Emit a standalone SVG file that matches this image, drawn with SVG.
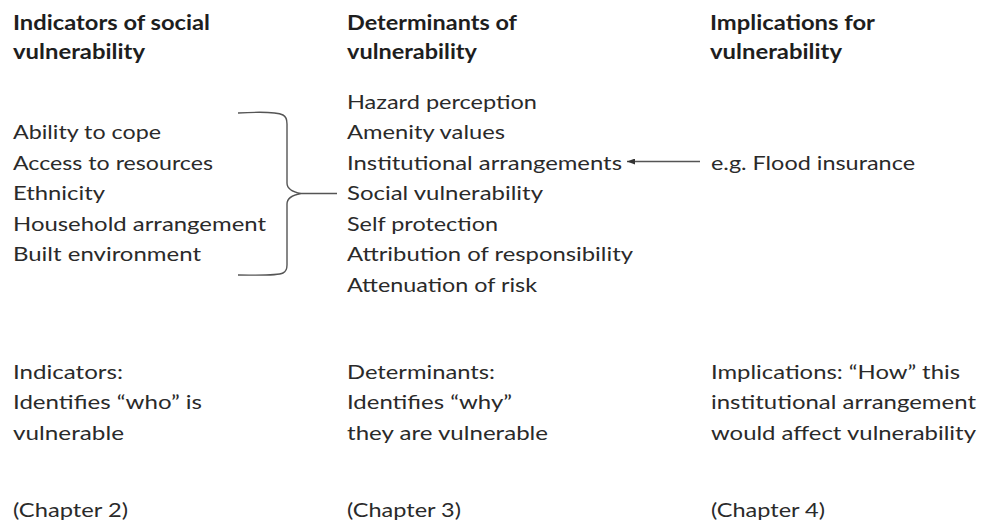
<svg xmlns="http://www.w3.org/2000/svg" width="982" height="522" viewBox="0 0 982 522">
<defs>
<style>
text{font-family:Lato,"Open Sans","Liberation Sans",sans-serif;font-size:20px;fill:#2a2a2a}
.h{font-weight:bold;fill:#1e1e1e}
.ln{fill:none;stroke:#555;stroke-width:1.4}
</style>
<marker id="ah" viewBox="0 0 8 6" refX="8" refY="3" markerWidth="8" markerHeight="6" markerUnits="userSpaceOnUse" orient="auto">
<path d="M0,0 L8,3 L0,6 Z" fill="#333"/>
</marker>
</defs>
<rect width="982" height="522" fill="#fff"/>

<g id="header-indicators">
<text class="h" x="13" y="30" textLength="197" lengthAdjust="spacingAndGlyphs">Indicators of social</text>
<text class="h" x="13" y="59" textLength="132" lengthAdjust="spacingAndGlyphs">vulnerability</text>
</g>
<g id="header-determinants">
<text class="h" x="347" y="30" textLength="170" lengthAdjust="spacingAndGlyphs">Determinants of</text>
<text class="h" x="347" y="59" textLength="130" lengthAdjust="spacingAndGlyphs">vulnerability</text>
</g>
<g id="header-implications">
<text class="h" x="710" y="30" textLength="165" lengthAdjust="spacingAndGlyphs">Implications for</text>
<text class="h" x="710" y="59" textLength="132" lengthAdjust="spacingAndGlyphs">vulnerability</text>
</g>

<g id="indicators-list">
<text x="13" y="139" textLength="148" lengthAdjust="spacingAndGlyphs">Ability to cope</text>
<text x="13" y="169.5" textLength="200" lengthAdjust="spacingAndGlyphs">Access to resources</text>
<text x="13" y="200" textLength="92" lengthAdjust="spacingAndGlyphs">Ethnicity</text>
<text x="13" y="230.5" textLength="253" lengthAdjust="spacingAndGlyphs">Household arrangement</text>
<text x="13" y="261" textLength="188" lengthAdjust="spacingAndGlyphs">Built environment</text>
</g>

<g id="determinants-list">
<text x="347" y="108.5" textLength="190" lengthAdjust="spacingAndGlyphs">Hazard perception</text>
<text x="347" y="139" textLength="158" lengthAdjust="spacingAndGlyphs">Amenity values</text>
<text x="347" y="169.5" textLength="275" lengthAdjust="spacingAndGlyphs">Institutional arrangements</text>
<text x="347" y="200" textLength="196" lengthAdjust="spacingAndGlyphs">Social vulnerability</text>
<text x="347" y="230.5" textLength="151" lengthAdjust="spacingAndGlyphs">Self protection</text>
<text x="347" y="261" textLength="286" lengthAdjust="spacingAndGlyphs">Attribution of responsibility</text>
<text x="347" y="291.5" textLength="190" lengthAdjust="spacingAndGlyphs">Attenuation of risk</text>
</g>

<g id="flood-insurance">
<text x="711" y="169.5" textLength="204" lengthAdjust="spacingAndGlyphs">e.g. Flood insurance</text>
</g>

<g id="connectors">
<path class="ln" d="M238,113 C256,112 277,112 283,115 Q287,117 287,124 L287,183 Q287,191 301,193.5 Q287,196 287,204 L287,265 Q287,271 283,273 C277,276 256,275 238,275"/>
<line class="ln" x1="301" y1="193.5" x2="337" y2="193.5"/>
<line class="ln" x1="700" y1="161.5" x2="627" y2="161.5" marker-end="url(#ah)"/>
</g>

<g id="note-indicators">
<text x="13" y="378.5" textLength="110" lengthAdjust="spacingAndGlyphs">Indicators:</text>
<text x="13" y="409" textLength="189" lengthAdjust="spacingAndGlyphs">Identifies “who” is</text>
<text x="13" y="439.5" textLength="111" lengthAdjust="spacingAndGlyphs">vulnerable</text>
<text x="13" y="517" textLength="115" lengthAdjust="spacingAndGlyphs">(Chapter 2)</text>
</g>
<g id="note-determinants">
<text x="347" y="378.5" textLength="148" lengthAdjust="spacingAndGlyphs">Determinants:</text>
<text x="347" y="409" textLength="165" lengthAdjust="spacingAndGlyphs">Identifies “why”</text>
<text x="347" y="439.5" textLength="201" lengthAdjust="spacingAndGlyphs">they are vulnerable</text>
<text x="347" y="517" textLength="114" lengthAdjust="spacingAndGlyphs">(Chapter 3)</text>
</g>
<g id="note-implications">
<text x="711" y="378.5" textLength="249" lengthAdjust="spacingAndGlyphs">Implications: “How” this</text>
<text x="711" y="409" textLength="265" lengthAdjust="spacingAndGlyphs">institutional arrangement</text>
<text x="711" y="439.5" textLength="265" lengthAdjust="spacingAndGlyphs">would affect vulnerability</text>
<text x="711" y="517" textLength="114" lengthAdjust="spacingAndGlyphs">(Chapter 4)</text>
</g>
</svg>
